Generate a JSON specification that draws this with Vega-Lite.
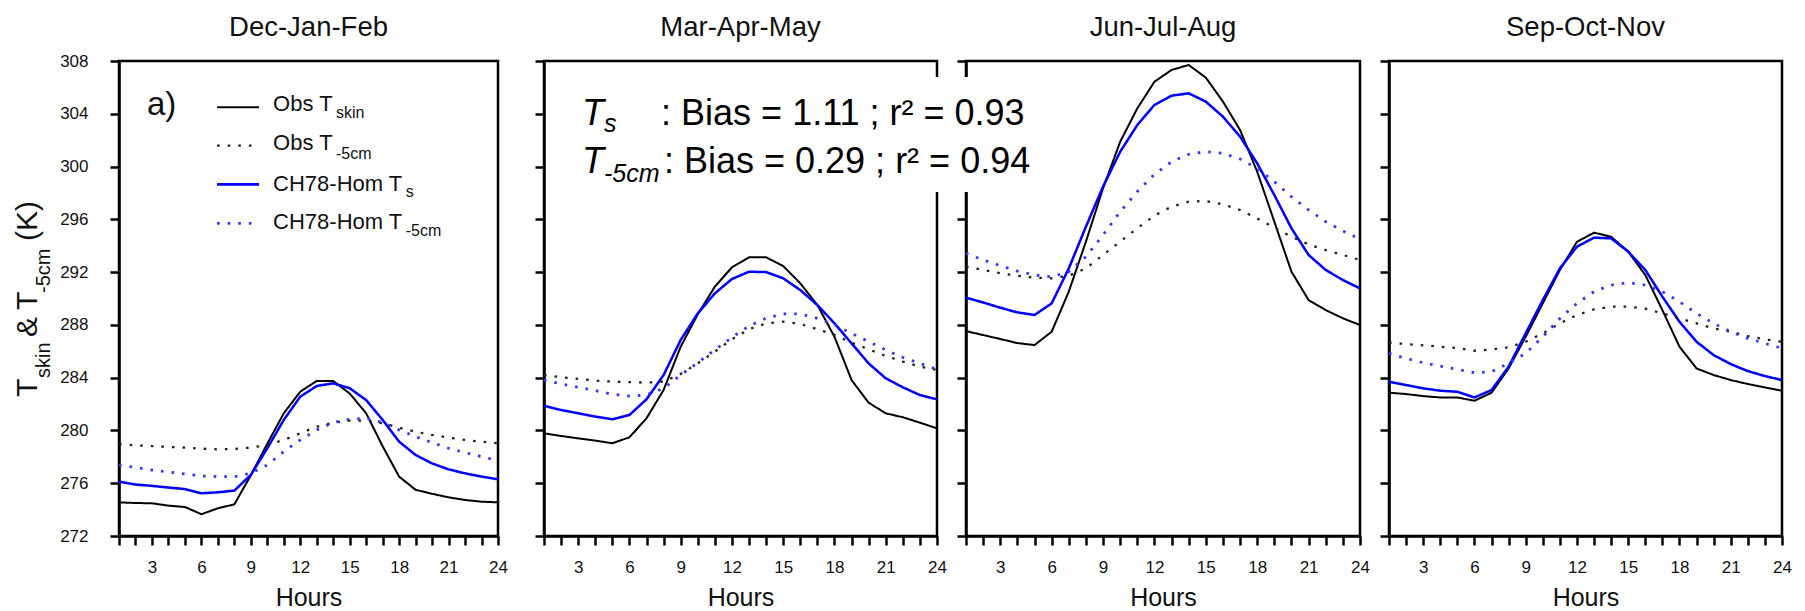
{
  "$schema": "https://vega.github.io/schema/vega-lite/v6.json",
  "autosize": {"type": "pad"},
  "padding": {"left": 11, "top": 12, "right": 0, "bottom": 0},
  "background": "white",
  "bounds": "flush",
  "spacing": 46,
  "config": {
    "font": "Liberation Sans",
    "view": {"stroke": "black", "strokeWidth": 2.5},
    "axis": {
      "domainColor": "black", "domainWidth": 2.5, "tickColor": "black", "tickWidth": 2.5, "tickSize": 9,
      "labelFont": "Liberation Sans", "labelFontSize": 17, "labelColor": "#111",
      "labelFlush": false, "labelOverlap": false, "grid": false, "zindex": 0,
      "titleFont": "Liberation Sans", "titleFontSize": 25, "titleFontWeight": "normal", "titleColor": "#111", "titlePadding": 10
    },
    "axisX": {"labelPadding": 14},
    "axisY": {"labelPadding": 22},
    "title": {"font": "Liberation Sans", "fontSize": 27.5, "fontWeight": "normal", "color": "#111", "anchor": "middle", "frame": "group", "baseline": "alphabetic", "offset": 18.5},
    "text": {"font": "Liberation Sans", "color": "black", "align": "left", "baseline": "alphabetic"}
  },
  "datasets": {
    "temps": [
      {"season":"DJF","series":"obs_skin","hour":1,"temp":274.55},{"season":"DJF","series":"obs_skin","hour":2,"temp":274.5},{"season":"DJF","series":"obs_skin","hour":3,"temp":274.48},{"season":"DJF","series":"obs_skin","hour":4,"temp":274.3},{"season":"DJF","series":"obs_skin","hour":5,"temp":274.2},{"season":"DJF","series":"obs_skin","hour":6,"temp":273.65},{"season":"DJF","series":"obs_skin","hour":7,"temp":274.1},{"season":"DJF","series":"obs_skin","hour":8,"temp":274.4},{"season":"DJF","series":"obs_skin","hour":9,"temp":276.6},{"season":"DJF","series":"obs_skin","hour":10,"temp":279.0},{"season":"DJF","series":"obs_skin","hour":11,"temp":281.3},{"season":"DJF","series":"obs_skin","hour":12,"temp":282.94},{"season":"DJF","series":"obs_skin","hour":13,"temp":283.75},{"season":"DJF","series":"obs_skin","hour":14,"temp":283.75},{"season":"DJF","series":"obs_skin","hour":15,"temp":282.8},{"season":"DJF","series":"obs_skin","hour":16,"temp":281.3},{"season":"DJF","series":"obs_skin","hour":17,"temp":278.8},{"season":"DJF","series":"obs_skin","hour":18,"temp":276.5},{"season":"DJF","series":"obs_skin","hour":19,"temp":275.5},{"season":"DJF","series":"obs_skin","hour":20,"temp":275.2},{"season":"DJF","series":"obs_skin","hour":21,"temp":274.93},{"season":"DJF","series":"obs_skin","hour":22,"temp":274.73},{"season":"DJF","series":"obs_skin","hour":23,"temp":274.6},{"season":"DJF","series":"obs_skin","hour":24,"temp":274.55},
      {"season":"DJF","series":"ch78_s","hour":1,"temp":276.12},{"season":"DJF","series":"ch78_s","hour":2,"temp":275.9},{"season":"DJF","series":"ch78_s","hour":3,"temp":275.8},{"season":"DJF","series":"ch78_s","hour":4,"temp":275.67},{"season":"DJF","series":"ch78_s","hour":5,"temp":275.56},{"season":"DJF","series":"ch78_s","hour":6,"temp":275.24},{"season":"DJF","series":"ch78_s","hour":7,"temp":275.31},{"season":"DJF","series":"ch78_s","hour":8,"temp":275.44},{"season":"DJF","series":"ch78_s","hour":9,"temp":276.63},{"season":"DJF","series":"ch78_s","hour":10,"temp":278.65},{"season":"DJF","series":"ch78_s","hour":11,"temp":280.8},{"season":"DJF","series":"ch78_s","hour":12,"temp":282.56},{"season":"DJF","series":"ch78_s","hour":13,"temp":283.37},{"season":"DJF","series":"ch78_s","hour":14,"temp":283.57},{"season":"DJF","series":"ch78_s","hour":15,"temp":283.2},{"season":"DJF","series":"ch78_s","hour":16,"temp":282.3},{"season":"DJF","series":"ch78_s","hour":17,"temp":280.8},{"season":"DJF","series":"ch78_s","hour":18,"temp":279.15},{"season":"DJF","series":"ch78_s","hour":19,"temp":278.14},{"season":"DJF","series":"ch78_s","hour":20,"temp":277.5},{"season":"DJF","series":"ch78_s","hour":21,"temp":277.05},{"season":"DJF","series":"ch78_s","hour":22,"temp":276.75},{"season":"DJF","series":"ch78_s","hour":23,"temp":276.5},{"season":"DJF","series":"ch78_s","hour":24,"temp":276.3},
      {"season":"DJF","series":"obs_5cm","hour":1,"temp":278.95},{"season":"DJF","series":"obs_5cm","hour":2,"temp":278.87},{"season":"DJF","series":"obs_5cm","hour":3,"temp":278.82},{"season":"DJF","series":"obs_5cm","hour":4,"temp":278.75},{"season":"DJF","series":"obs_5cm","hour":5,"temp":278.7},{"season":"DJF","series":"obs_5cm","hour":6,"temp":278.62},{"season":"DJF","series":"obs_5cm","hour":7,"temp":278.57},{"season":"DJF","series":"obs_5cm","hour":8,"temp":278.6},{"season":"DJF","series":"obs_5cm","hour":9,"temp":278.7},{"season":"DJF","series":"obs_5cm","hour":10,"temp":278.9},{"season":"DJF","series":"obs_5cm","hour":11,"temp":279.28},{"season":"DJF","series":"obs_5cm","hour":12,"temp":279.78},{"season":"DJF","series":"obs_5cm","hour":13,"temp":280.29},{"season":"DJF","series":"obs_5cm","hour":14,"temp":280.59},{"season":"DJF","series":"obs_5cm","hour":15,"temp":280.74},{"season":"DJF","series":"obs_5cm","hour":16,"temp":280.74},{"season":"DJF","series":"obs_5cm","hour":17,"temp":280.54},{"season":"DJF","series":"obs_5cm","hour":18,"temp":280.21},{"season":"DJF","series":"obs_5cm","hour":19,"temp":279.9},{"season":"DJF","series":"obs_5cm","hour":20,"temp":279.66},{"season":"DJF","series":"obs_5cm","hour":21,"temp":279.46},{"season":"DJF","series":"obs_5cm","hour":22,"temp":279.28},{"season":"DJF","series":"obs_5cm","hour":23,"temp":279.15},{"season":"DJF","series":"obs_5cm","hour":24,"temp":279.03},
      {"season":"DJF","series":"ch78_5cm","hour":1,"temp":277.38},{"season":"DJF","series":"ch78_5cm","hour":2,"temp":277.2},{"season":"DJF","series":"ch78_5cm","hour":3,"temp":277.0},{"season":"DJF","series":"ch78_5cm","hour":4,"temp":276.85},{"season":"DJF","series":"ch78_5cm","hour":5,"temp":276.7},{"season":"DJF","series":"ch78_5cm","hour":6,"temp":276.55},{"season":"DJF","series":"ch78_5cm","hour":7,"temp":276.5},{"season":"DJF","series":"ch78_5cm","hour":8,"temp":276.5},{"season":"DJF","series":"ch78_5cm","hour":9,"temp":276.75},{"season":"DJF","series":"ch78_5cm","hour":10,"temp":277.38},{"season":"DJF","series":"ch78_5cm","hour":11,"temp":278.4},{"season":"DJF","series":"ch78_5cm","hour":12,"temp":279.28},{"season":"DJF","series":"ch78_5cm","hour":13,"temp":280.04},{"season":"DJF","series":"ch78_5cm","hour":14,"temp":280.6},{"season":"DJF","series":"ch78_5cm","hour":15,"temp":280.85},{"season":"DJF","series":"ch78_5cm","hour":16,"temp":280.92},{"season":"DJF","series":"ch78_5cm","hour":17,"temp":280.6},{"season":"DJF","series":"ch78_5cm","hour":18,"temp":280.04},{"season":"DJF","series":"ch78_5cm","hour":19,"temp":279.53},{"season":"DJF","series":"ch78_5cm","hour":20,"temp":279.08},{"season":"DJF","series":"ch78_5cm","hour":21,"temp":278.65},{"season":"DJF","series":"ch78_5cm","hour":22,"temp":278.32},{"season":"DJF","series":"ch78_5cm","hour":23,"temp":278.02},{"season":"DJF","series":"ch78_5cm","hour":24,"temp":277.71},

      {"season":"MAM","series":"obs_skin","hour":1,"temp":279.78},{"season":"MAM","series":"obs_skin","hour":2,"temp":279.58},{"season":"MAM","series":"obs_skin","hour":3,"temp":279.4},{"season":"MAM","series":"obs_skin","hour":4,"temp":279.23},{"season":"MAM","series":"obs_skin","hour":5,"temp":279.03},{"season":"MAM","series":"obs_skin","hour":6,"temp":279.48},{"season":"MAM","series":"obs_skin","hour":7,"temp":280.92},{"season":"MAM","series":"obs_skin","hour":8,"temp":283.07},{"season":"MAM","series":"obs_skin","hour":9,"temp":286.35},{"season":"MAM","series":"obs_skin","hour":10,"temp":288.8},{"season":"MAM","series":"obs_skin","hour":11,"temp":290.9},{"season":"MAM","series":"obs_skin","hour":12,"temp":292.36},{"season":"MAM","series":"obs_skin","hour":13,"temp":293.12},{"season":"MAM","series":"obs_skin","hour":14,"temp":293.12},{"season":"MAM","series":"obs_skin","hour":15,"temp":292.46},{"season":"MAM","series":"obs_skin","hour":16,"temp":291.15},{"season":"MAM","series":"obs_skin","hour":17,"temp":289.5},{"season":"MAM","series":"obs_skin","hour":18,"temp":287.1},{"season":"MAM","series":"obs_skin","hour":19,"temp":283.82},{"season":"MAM","series":"obs_skin","hour":20,"temp":282.1},{"season":"MAM","series":"obs_skin","hour":21,"temp":281.3},{"season":"MAM","series":"obs_skin","hour":22,"temp":281.0},{"season":"MAM","series":"obs_skin","hour":23,"temp":280.59},{"season":"MAM","series":"obs_skin","hour":24,"temp":280.16},
      {"season":"MAM","series":"ch78_s","hour":1,"temp":281.86},{"season":"MAM","series":"ch78_s","hour":2,"temp":281.55},{"season":"MAM","series":"ch78_s","hour":3,"temp":281.3},{"season":"MAM","series":"ch78_s","hour":4,"temp":281.05},{"season":"MAM","series":"ch78_s","hour":5,"temp":280.85},{"season":"MAM","series":"ch78_s","hour":6,"temp":281.17},{"season":"MAM","series":"ch78_s","hour":7,"temp":282.36},{"season":"MAM","series":"ch78_s","hour":8,"temp":284.2},{"season":"MAM","series":"ch78_s","hour":9,"temp":286.86},{"season":"MAM","series":"ch78_s","hour":10,"temp":288.87},{"season":"MAM","series":"ch78_s","hour":11,"temp":290.39},{"season":"MAM","series":"ch78_s","hour":12,"temp":291.48},{"season":"MAM","series":"ch78_s","hour":13,"temp":292.03},{"season":"MAM","series":"ch78_s","hour":14,"temp":292.0},{"season":"MAM","series":"ch78_s","hour":15,"temp":291.53},{"season":"MAM","series":"ch78_s","hour":16,"temp":290.64},{"season":"MAM","series":"ch78_s","hour":17,"temp":289.5},{"season":"MAM","series":"ch78_s","hour":18,"temp":288.12},{"season":"MAM","series":"ch78_s","hour":19,"temp":286.6},{"season":"MAM","series":"ch78_s","hour":20,"temp":285.08},{"season":"MAM","series":"ch78_s","hour":21,"temp":283.95},{"season":"MAM","series":"ch78_s","hour":22,"temp":283.27},{"season":"MAM","series":"ch78_s","hour":23,"temp":282.68},{"season":"MAM","series":"ch78_s","hour":24,"temp":282.36},
      {"season":"MAM","series":"obs_5cm","hour":1,"temp":284.2},{"season":"MAM","series":"obs_5cm","hour":2,"temp":284.03},{"season":"MAM","series":"obs_5cm","hour":3,"temp":283.9},{"season":"MAM","series":"obs_5cm","hour":4,"temp":283.78},{"season":"MAM","series":"obs_5cm","hour":5,"temp":283.7},{"season":"MAM","series":"obs_5cm","hour":6,"temp":283.67},{"season":"MAM","series":"obs_5cm","hour":7,"temp":283.62},{"season":"MAM","series":"obs_5cm","hour":8,"temp":283.7},{"season":"MAM","series":"obs_5cm","hour":9,"temp":284.28},{"season":"MAM","series":"obs_5cm","hour":10,"temp":285.09},{"season":"MAM","series":"obs_5cm","hour":11,"temp":285.97},{"season":"MAM","series":"obs_5cm","hour":12,"temp":286.91},{"season":"MAM","series":"obs_5cm","hour":13,"temp":287.67},{"season":"MAM","series":"obs_5cm","hour":14,"temp":288.12},{"season":"MAM","series":"obs_5cm","hour":15,"temp":288.25},{"season":"MAM","series":"obs_5cm","hour":16,"temp":288.07},{"season":"MAM","series":"obs_5cm","hour":17,"temp":287.67},{"season":"MAM","series":"obs_5cm","hour":18,"temp":287.24},{"season":"MAM","series":"obs_5cm","hour":19,"temp":286.66},{"season":"MAM","series":"obs_5cm","hour":20,"temp":286.15},{"season":"MAM","series":"obs_5cm","hour":21,"temp":285.65},{"season":"MAM","series":"obs_5cm","hour":22,"temp":285.22},{"season":"MAM","series":"obs_5cm","hour":23,"temp":284.84},{"season":"MAM","series":"obs_5cm","hour":24,"temp":284.58},
      {"season":"MAM","series":"ch78_5cm","hour":1,"temp":283.83},{"season":"MAM","series":"ch78_5cm","hour":2,"temp":283.52},{"season":"MAM","series":"ch78_5cm","hour":3,"temp":283.27},{"season":"MAM","series":"ch78_5cm","hour":4,"temp":283.02},{"season":"MAM","series":"ch78_5cm","hour":5,"temp":282.74},{"season":"MAM","series":"ch78_5cm","hour":6,"temp":282.61},{"season":"MAM","series":"ch78_5cm","hour":7,"temp":282.69},{"season":"MAM","series":"ch78_5cm","hour":8,"temp":283.2},{"season":"MAM","series":"ch78_5cm","hour":9,"temp":284.2},{"season":"MAM","series":"ch78_5cm","hour":10,"temp":285.14},{"season":"MAM","series":"ch78_5cm","hour":11,"temp":286.1},{"season":"MAM","series":"ch78_5cm","hour":12,"temp":287.06},{"season":"MAM","series":"ch78_5cm","hour":13,"temp":287.92},{"season":"MAM","series":"ch78_5cm","hour":14,"temp":288.5},{"season":"MAM","series":"ch78_5cm","hour":15,"temp":288.83},{"season":"MAM","series":"ch78_5cm","hour":16,"temp":288.83},{"season":"MAM","series":"ch78_5cm","hour":17,"temp":288.5},{"season":"MAM","series":"ch78_5cm","hour":18,"temp":288.0},{"season":"MAM","series":"ch78_5cm","hour":19,"temp":287.36},{"season":"MAM","series":"ch78_5cm","hour":20,"temp":286.73},{"season":"MAM","series":"ch78_5cm","hour":21,"temp":286.1},{"season":"MAM","series":"ch78_5cm","hour":22,"temp":285.54},{"season":"MAM","series":"ch78_5cm","hour":23,"temp":285.09},{"season":"MAM","series":"ch78_5cm","hour":24,"temp":284.63},

      {"season":"JJA","series":"obs_skin","hour":1,"temp":287.53},{"season":"JJA","series":"obs_skin","hour":2,"temp":287.23},{"season":"JJA","series":"obs_skin","hour":3,"temp":286.93},{"season":"JJA","series":"obs_skin","hour":4,"temp":286.62},{"season":"JJA","series":"obs_skin","hour":5,"temp":286.47},{"season":"JJA","series":"obs_skin","hour":6,"temp":287.48},{"season":"JJA","series":"obs_skin","hour":7,"temp":290.52},{"season":"JJA","series":"obs_skin","hour":8,"temp":294.31},{"season":"JJA","series":"obs_skin","hour":9,"temp":298.35},{"season":"JJA","series":"obs_skin","hour":10,"temp":301.88},{"season":"JJA","series":"obs_skin","hour":11,"temp":304.41},{"season":"JJA","series":"obs_skin","hour":12,"temp":306.43},{"season":"JJA","series":"obs_skin","hour":13,"temp":307.32},{"season":"JJA","series":"obs_skin","hour":14,"temp":307.7},{"season":"JJA","series":"obs_skin","hour":15,"temp":306.74},{"season":"JJA","series":"obs_skin","hour":16,"temp":304.92},{"season":"JJA","series":"obs_skin","hour":17,"temp":302.77},{"season":"JJA","series":"obs_skin","hour":18,"temp":299.61},{"season":"JJA","series":"obs_skin","hour":19,"temp":295.82},{"season":"JJA","series":"obs_skin","hour":20,"temp":292.03},{"season":"JJA","series":"obs_skin","hour":21,"temp":289.88},{"season":"JJA","series":"obs_skin","hour":22,"temp":289.12},{"season":"JJA","series":"obs_skin","hour":23,"temp":288.5},{"season":"JJA","series":"obs_skin","hour":24,"temp":287.99},
      {"season":"JJA","series":"ch78_s","hour":1,"temp":290.06},{"season":"JJA","series":"ch78_s","hour":2,"temp":289.7},{"season":"JJA","series":"ch78_s","hour":3,"temp":289.3},{"season":"JJA","series":"ch78_s","hour":4,"temp":288.95},{"season":"JJA","series":"ch78_s","hour":5,"temp":288.75},{"season":"JJA","series":"ch78_s","hour":6,"temp":289.63},{"season":"JJA","series":"ch78_s","hour":7,"temp":292.28},{"season":"JJA","series":"ch78_s","hour":8,"temp":295.44},{"season":"JJA","series":"ch78_s","hour":9,"temp":298.48},{"season":"JJA","series":"ch78_s","hour":10,"temp":301.12},{"season":"JJA","series":"ch78_s","hour":11,"temp":303.15},{"season":"JJA","series":"ch78_s","hour":12,"temp":304.67},{"season":"JJA","series":"ch78_s","hour":13,"temp":305.37},{"season":"JJA","series":"ch78_s","hour":14,"temp":305.55},{"season":"JJA","series":"ch78_s","hour":15,"temp":304.92},{"season":"JJA","series":"ch78_s","hour":16,"temp":303.78},{"season":"JJA","series":"ch78_s","hour":17,"temp":302.27},{"season":"JJA","series":"ch78_s","hour":18,"temp":300.24},{"season":"JJA","series":"ch78_s","hour":19,"temp":297.84},{"season":"JJA","series":"ch78_s","hour":20,"temp":295.32},{"season":"JJA","series":"ch78_s","hour":21,"temp":293.3},{"season":"JJA","series":"ch78_s","hour":22,"temp":292.16},{"season":"JJA","series":"ch78_s","hour":23,"temp":291.4},{"season":"JJA","series":"ch78_s","hour":24,"temp":290.77},
      {"season":"JJA","series":"obs_5cm","hour":1,"temp":292.41},{"season":"JJA","series":"obs_5cm","hour":2,"temp":292.16},{"season":"JJA","series":"obs_5cm","hour":3,"temp":291.91},{"season":"JJA","series":"obs_5cm","hour":4,"temp":291.73},{"season":"JJA","series":"obs_5cm","hour":5,"temp":291.58},{"season":"JJA","series":"obs_5cm","hour":6,"temp":291.53},{"season":"JJA","series":"obs_5cm","hour":7,"temp":291.73},{"season":"JJA","series":"obs_5cm","hour":8,"temp":292.28},{"season":"JJA","series":"obs_5cm","hour":9,"temp":293.3},{"season":"JJA","series":"obs_5cm","hour":10,"temp":294.31},{"season":"JJA","series":"obs_5cm","hour":11,"temp":295.32},{"season":"JJA","series":"obs_5cm","hour":12,"temp":296.28},{"season":"JJA","series":"obs_5cm","hour":13,"temp":296.96},{"season":"JJA","series":"obs_5cm","hour":14,"temp":297.34},{"season":"JJA","series":"obs_5cm","hour":15,"temp":297.39},{"season":"JJA","series":"obs_5cm","hour":16,"temp":297.14},{"season":"JJA","series":"obs_5cm","hour":17,"temp":296.71},{"season":"JJA","series":"obs_5cm","hour":18,"temp":296.07},{"season":"JJA","series":"obs_5cm","hour":19,"temp":295.37},{"season":"JJA","series":"obs_5cm","hour":20,"temp":294.68},{"season":"JJA","series":"obs_5cm","hour":21,"temp":294.1},{"season":"JJA","series":"obs_5cm","hour":22,"temp":293.67},{"season":"JJA","series":"obs_5cm","hour":23,"temp":293.3},{"season":"JJA","series":"obs_5cm","hour":24,"temp":292.92},
      {"season":"JJA","series":"ch78_5cm","hour":1,"temp":293.42},{"season":"JJA","series":"ch78_5cm","hour":2,"temp":292.92},{"season":"JJA","series":"ch78_5cm","hour":3,"temp":292.49},{"season":"JJA","series":"ch78_5cm","hour":4,"temp":292.08},{"season":"JJA","series":"ch78_5cm","hour":5,"temp":291.78},{"season":"JJA","series":"ch78_5cm","hour":6,"temp":291.65},{"season":"JJA","series":"ch78_5cm","hour":7,"temp":292.03},{"season":"JJA","series":"ch78_5cm","hour":8,"temp":293.17},{"season":"JJA","series":"ch78_5cm","hour":9,"temp":294.81},{"season":"JJA","series":"ch78_5cm","hour":10,"temp":296.58},{"season":"JJA","series":"ch78_5cm","hour":11,"temp":298.1},{"season":"JJA","series":"ch78_5cm","hour":12,"temp":299.41},{"season":"JJA","series":"ch78_5cm","hour":13,"temp":300.37},{"season":"JJA","series":"ch78_5cm","hour":14,"temp":300.93},{"season":"JJA","series":"ch78_5cm","hour":15,"temp":301.13},{"season":"JJA","series":"ch78_5cm","hour":16,"temp":301.0},{"season":"JJA","series":"ch78_5cm","hour":17,"temp":300.57},{"season":"JJA","series":"ch78_5cm","hour":18,"temp":299.86},{"season":"JJA","series":"ch78_5cm","hour":19,"temp":298.85},{"season":"JJA","series":"ch78_5cm","hour":20,"temp":297.72},{"season":"JJA","series":"ch78_5cm","hour":21,"temp":296.71},{"season":"JJA","series":"ch78_5cm","hour":22,"temp":295.82},{"season":"JJA","series":"ch78_5cm","hour":23,"temp":295.12},{"season":"JJA","series":"ch78_5cm","hour":24,"temp":294.5},

      {"season":"SON","series":"obs_skin","hour":1,"temp":282.86},{"season":"SON","series":"obs_skin","hour":2,"temp":282.76},{"season":"SON","series":"obs_skin","hour":3,"temp":282.6},{"season":"SON","series":"obs_skin","hour":4,"temp":282.5},{"season":"SON","series":"obs_skin","hour":5,"temp":282.5},{"season":"SON","series":"obs_skin","hour":6,"temp":282.25},{"season":"SON","series":"obs_skin","hour":7,"temp":282.86},{"season":"SON","series":"obs_skin","hour":8,"temp":284.7},{"season":"SON","series":"obs_skin","hour":9,"temp":287.1},{"season":"SON","series":"obs_skin","hour":10,"temp":289.63},{"season":"SON","series":"obs_skin","hour":11,"temp":292.16},{"season":"SON","series":"obs_skin","hour":12,"temp":294.3},{"season":"SON","series":"obs_skin","hour":13,"temp":294.99},{"season":"SON","series":"obs_skin","hour":14,"temp":294.68},{"season":"SON","series":"obs_skin","hour":15,"temp":293.55},{"season":"SON","series":"obs_skin","hour":16,"temp":291.78},{"season":"SON","series":"obs_skin","hour":17,"temp":289.12},{"season":"SON","series":"obs_skin","hour":18,"temp":286.35},{"season":"SON","series":"obs_skin","hour":19,"temp":284.7},{"season":"SON","series":"obs_skin","hour":20,"temp":284.2},{"season":"SON","series":"obs_skin","hour":21,"temp":283.82},{"season":"SON","series":"obs_skin","hour":22,"temp":283.52},{"season":"SON","series":"obs_skin","hour":23,"temp":283.26},{"season":"SON","series":"obs_skin","hour":24,"temp":283.01},
      {"season":"SON","series":"ch78_s","hour":1,"temp":283.69},{"season":"SON","series":"ch78_s","hour":2,"temp":283.44},{"season":"SON","series":"ch78_s","hour":3,"temp":283.19},{"season":"SON","series":"ch78_s","hour":4,"temp":283.01},{"season":"SON","series":"ch78_s","hour":5,"temp":282.93},{"season":"SON","series":"ch78_s","hour":6,"temp":282.5},{"season":"SON","series":"ch78_s","hour":7,"temp":283.06},{"season":"SON","series":"ch78_s","hour":8,"temp":284.83},{"season":"SON","series":"ch78_s","hour":9,"temp":287.36},{"season":"SON","series":"ch78_s","hour":10,"temp":289.88},{"season":"SON","series":"ch78_s","hour":11,"temp":292.28},{"season":"SON","series":"ch78_s","hour":12,"temp":293.93},{"season":"SON","series":"ch78_s","hour":13,"temp":294.61},{"season":"SON","series":"ch78_s","hour":14,"temp":294.56},{"season":"SON","series":"ch78_s","hour":15,"temp":293.55},{"season":"SON","series":"ch78_s","hour":16,"temp":292.16},{"season":"SON","series":"ch78_s","hour":17,"temp":290.14},{"season":"SON","series":"ch78_s","hour":18,"temp":288.24},{"season":"SON","series":"ch78_s","hour":19,"temp":286.72},{"season":"SON","series":"ch78_s","hour":20,"temp":285.71},{"season":"SON","series":"ch78_s","hour":21,"temp":285.03},{"season":"SON","series":"ch78_s","hour":22,"temp":284.5},{"season":"SON","series":"ch78_s","hour":23,"temp":284.12},{"season":"SON","series":"ch78_s","hour":24,"temp":283.82},
      {"season":"SON","series":"obs_5cm","hour":1,"temp":286.65},{"season":"SON","series":"obs_5cm","hour":2,"temp":286.55},{"season":"SON","series":"obs_5cm","hour":3,"temp":286.45},{"season":"SON","series":"obs_5cm","hour":4,"temp":286.35},{"season":"SON","series":"obs_5cm","hour":5,"temp":286.24},{"season":"SON","series":"obs_5cm","hour":6,"temp":286.04},{"season":"SON","series":"obs_5cm","hour":7,"temp":286.14},{"season":"SON","series":"obs_5cm","hour":8,"temp":286.3},{"season":"SON","series":"obs_5cm","hour":9,"temp":286.72},{"season":"SON","series":"obs_5cm","hour":10,"temp":287.36},{"season":"SON","series":"obs_5cm","hour":11,"temp":288.11},{"season":"SON","series":"obs_5cm","hour":12,"temp":288.75},{"season":"SON","series":"obs_5cm","hour":13,"temp":289.18},{"season":"SON","series":"obs_5cm","hour":14,"temp":289.38},{"season":"SON","series":"obs_5cm","hour":15,"temp":289.38},{"season":"SON","series":"obs_5cm","hour":16,"temp":289.23},{"season":"SON","series":"obs_5cm","hour":17,"temp":288.87},{"season":"SON","series":"obs_5cm","hour":18,"temp":288.49},{"season":"SON","series":"obs_5cm","hour":19,"temp":288.11},{"season":"SON","series":"obs_5cm","hour":20,"temp":287.73},{"season":"SON","series":"obs_5cm","hour":21,"temp":287.48},{"season":"SON","series":"obs_5cm","hour":22,"temp":287.15},{"season":"SON","series":"obs_5cm","hour":23,"temp":286.9},{"season":"SON","series":"obs_5cm","hour":24,"temp":286.72},
      {"season":"SON","series":"ch78_5cm","hour":1,"temp":285.84},{"season":"SON","series":"ch78_5cm","hour":2,"temp":285.46},{"season":"SON","series":"ch78_5cm","hour":3,"temp":285.13},{"season":"SON","series":"ch78_5cm","hour":4,"temp":284.88},{"season":"SON","series":"ch78_5cm","hour":5,"temp":284.63},{"season":"SON","series":"ch78_5cm","hour":6,"temp":284.37},{"season":"SON","series":"ch78_5cm","hour":7,"temp":284.45},{"season":"SON","series":"ch78_5cm","hour":8,"temp":285.08},{"season":"SON","series":"ch78_5cm","hour":9,"temp":285.84},{"season":"SON","series":"ch78_5cm","hour":10,"temp":287.1},{"season":"SON","series":"ch78_5cm","hour":11,"temp":288.49},{"season":"SON","series":"ch78_5cm","hour":12,"temp":289.63},{"season":"SON","series":"ch78_5cm","hour":13,"temp":290.52},{"season":"SON","series":"ch78_5cm","hour":14,"temp":291.02},{"season":"SON","series":"ch78_5cm","hour":15,"temp":291.2},{"season":"SON","series":"ch78_5cm","hour":16,"temp":291.02},{"season":"SON","series":"ch78_5cm","hour":17,"temp":290.52},{"season":"SON","series":"ch78_5cm","hour":18,"temp":289.76},{"season":"SON","series":"ch78_5cm","hour":19,"temp":288.87},{"season":"SON","series":"ch78_5cm","hour":20,"temp":288.11},{"season":"SON","series":"ch78_5cm","hour":21,"temp":287.48},{"season":"SON","series":"ch78_5cm","hour":22,"temp":286.98},{"season":"SON","series":"ch78_5cm","hour":23,"temp":286.6},{"season":"SON","series":"ch78_5cm","hour":24,"temp":286.22}
    ],
    "key": [
      {"series":"obs_skin","hour":6.95,"hour2":9.5,"temp":304.49},
      {"series":"obs_5cm","hour":6.95,"hour2":9.5,"temp":301.58},
      {"series":"ch78_s","hour":6.95,"hour2":9.5,"temp":298.65},
      {"series":"ch78_5cm","hour":6.95,"hour2":9.5,"temp":295.70}
    ],
    "labels": [
      {"part":"legend_main","text":"Obs T","hour":10.35,"temp":304.21},
      {"part":"legend_main","text":"Obs T","hour":10.35,"temp":301.25},
      {"part":"legend_main","text":"CH78-Hom T","hour":10.35,"temp":298.15},
      {"part":"legend_main","text":"CH78-Hom T","hour":10.35,"temp":295.27},
      {"part":"legend_sub","text":"skin","hour":14.17,"temp":303.68},
      {"part":"legend_sub","text":"-5cm","hour":14.17,"temp":300.57},
      {"part":"legend_sub","text":"s","hour":18.4,"temp":297.69},
      {"part":"legend_sub","text":"-5cm","hour":18.4,"temp":294.74},
      {"part":"tag","text":"a)","hour":2.70,"temp":303.91},
      {"part":"ytitle_main","text":"T","hour":-3.98,"temp":282.53},
      {"part":"ytitle_main","text":"&","hour":-3.98,"temp":287.08},
      {"part":"ytitle_main","text":"T","hour":-3.98,"temp":289.13},
      {"part":"ytitle_main","text":"(K)","hour":-3.98,"temp":294.36},
      {"part":"ytitle_sub","text":"skin","hour":-3.2,"temp":283.97},
      {"part":"ytitle_sub","text":"-5cm","hour":-3.2,"temp":290.42}
    ],
    "note": [
      {"part":"box","text":"","hour":-22.47,"hour2":5.55,"temp":306.79,"temp2":298.07},
      {"part":"sym_main","text":"T","hour":-21.42,"temp":303.15},
      {"part":"sym_main","text":"T","hour":-21.42,"temp":299.51},
      {"part":"sym_sub","text":"s","hour":-20.13,"temp":302.62},
      {"part":"sym_sub","text":"-5cm","hour":-20.13,"temp":298.83},
      {"part":"stat","text":": Bias = 1.11 ; r² = 0.93","hour":-16.80,"temp":303.15},
      {"part":"stat","text":": Bias = 0.29 ; r² = 0.94","hour":-16.63,"temp":299.51}
    ]
  },
  "hconcat": [
    {
      "width": 379, "height": 475,
      "title": {"text": "Dec-Jan-Feb", "offset": 10.5},
      "resolve": {"axis": {"x": "independent", "y": "independent"}},
      "layer": [
        {
          "data": {"name": "temps"},
          "transform": [{"filter": "datum.season === 'DJF'"}],
          "mark": {"type": "line", "strokeCap": "butt"},
          "encoding": {
            "x": {"field": "hour", "type": "quantitative", "scale": {"domain": [1, 24], "nice": false, "zero": false},
                  "axis": {"values": [1,2,3,4,5,6,7,8,9,10,11,12,13,14,15,16,17,18,19,20,21,22,23,24], "labelExpr": "datum.value % 3 === 0 ? datum.label : ''", "labelOverlap": false, "title": "Hours"}},
            "y": {"field": "temp", "type": "quantitative", "scale": {"domain": [272, 308], "nice": false, "zero": false},
                  "axis": {"values": [272,276,280,284,288,292,296,300,304,308], "labelOverlap": false, "title": null}},
            "color": {"field": "series", "type": "nominal", "legend": null, "scale": {"domain": ["obs_skin","obs_5cm","ch78_s","ch78_5cm"], "range": ["#000000","#222222","#0000ff","#3535ff"]}},
            "strokeDash": {"field": "series", "type": "nominal", "legend": null, "scale": {"domain": ["obs_skin","obs_5cm","ch78_s","ch78_5cm"], "range": [[1,0],[2.6,8],[1,0],[2.6,8]]}},
            "strokeWidth": {"field": "series", "type": "nominal", "legend": null, "scale": {"domain": ["obs_skin","obs_5cm","ch78_s","ch78_5cm"], "range": [2,2.8,2.3,2.8]}}
          }
        },
        {
          "data": {"name": "key"},
          "mark": {"type": "rule"},
          "encoding": {
            "x": {"field": "hour", "type": "quantitative", "axis": null},
            "x2": {"field": "hour2"},
            "y": {"field": "temp", "type": "quantitative", "axis": null},
            "color": {"field": "series", "type": "nominal", "legend": null},
            "strokeDash": {"field": "series", "type": "nominal", "legend": null},
            "strokeWidth": {"field": "series", "type": "nominal", "legend": null}
          }
        },
        {
          "data": {"name": "labels"},
          "transform": [{"filter": "datum.part === 'legend_main'"}],
          "mark": {"type": "text", "fontSize": 22, "color": "#111"},
          "encoding": {"x": {"field": "hour", "type": "quantitative", "axis": null}, "y": {"field": "temp", "type": "quantitative", "axis": null}, "text": {"field": "text"}}
        },
        {
          "data": {"name": "labels"},
          "transform": [{"filter": "datum.part === 'legend_sub'"}],
          "mark": {"type": "text", "fontSize": 16, "color": "#111"},
          "encoding": {"x": {"field": "hour", "type": "quantitative", "axis": null}, "y": {"field": "temp", "type": "quantitative", "axis": null}, "text": {"field": "text"}}
        },
        {
          "data": {"name": "labels"},
          "transform": [{"filter": "datum.part === 'tag'"}],
          "mark": {"type": "text", "fontSize": 33, "color": "#111"},
          "encoding": {"x": {"field": "hour", "type": "quantitative", "axis": null}, "y": {"field": "temp", "type": "quantitative", "axis": null}, "text": {"field": "text"}}
        },
        {
          "data": {"name": "labels"},
          "transform": [{"filter": "datum.part === 'ytitle_main'"}],
          "mark": {"type": "text", "fontSize": 30, "angle": 270, "color": "#111"},
          "encoding": {"x": {"field": "hour", "type": "quantitative", "axis": null}, "y": {"field": "temp", "type": "quantitative", "axis": null}, "text": {"field": "text"}}
        },
        {
          "data": {"name": "labels"},
          "transform": [{"filter": "datum.part === 'ytitle_sub'"}],
          "mark": {"type": "text", "fontSize": 20, "angle": 270, "color": "#111"},
          "encoding": {"x": {"field": "hour", "type": "quantitative", "axis": null}, "y": {"field": "temp", "type": "quantitative", "axis": null}, "text": {"field": "text"}}
        }
      ]
    },
    {
      "bounds": "flush",
      "spacing": 29,
      "hconcat": [
        {
          "width": 393, "height": 475,
          "title": {"text": "Mar-Apr-May"},
          "data": {"name": "temps"},
          "transform": [{"filter": "datum.season === 'MAM'"}],
          "mark": {"type": "line", "strokeCap": "butt"},
          "encoding": {
            "x": {"field": "hour", "type": "quantitative", "scale": {"domain": [1, 24], "nice": false, "zero": false},
                  "axis": {"values": [1,2,3,4,5,6,7,8,9,10,11,12,13,14,15,16,17,18,19,20,21,22,23,24], "labelExpr": "datum.value % 3 === 0 ? datum.label : ''", "labelOverlap": false, "title": "Hours"}},
            "y": {"field": "temp", "type": "quantitative", "scale": {"domain": [272, 308], "nice": false, "zero": false},
                  "axis": {"values": [272,276,280,284,288,292,296,300,304,308], "title": null, "labels": false}},
            "color": {"field": "series", "type": "nominal", "legend": null, "scale": {"domain": ["obs_skin","obs_5cm","ch78_s","ch78_5cm"], "range": ["#000000","#222222","#0000ff","#3535ff"]}},
            "strokeDash": {"field": "series", "type": "nominal", "legend": null, "scale": {"domain": ["obs_skin","obs_5cm","ch78_s","ch78_5cm"], "range": [[1,0],[2.6,8],[1,0],[2.6,8]]}},
            "strokeWidth": {"field": "series", "type": "nominal", "legend": null, "scale": {"domain": ["obs_skin","obs_5cm","ch78_s","ch78_5cm"], "range": [2,2.8,2.3,2.8]}}
          }
        },
        {
          "width": 394, "height": 475,
          "title": {"text": "Jun-Jul-Aug"},
          "resolve": {"axis": {"x": "independent", "y": "independent"}},
          "layer": [
            {
              "data": {"name": "temps"},
              "transform": [{"filter": "datum.season === 'JJA'"}],
              "mark": {"type": "line", "strokeCap": "butt"},
              "encoding": {
                "x": {"field": "hour", "type": "quantitative", "scale": {"domain": [1, 24], "nice": false, "zero": false},
                      "axis": {"values": [1,2,3,4,5,6,7,8,9,10,11,12,13,14,15,16,17,18,19,20,21,22,23,24], "labelExpr": "datum.value % 3 === 0 ? datum.label : ''", "labelOverlap": false, "title": "Hours", "zindex": 0}},
                "y": {"field": "temp", "type": "quantitative", "scale": {"domain": [272, 308], "nice": false, "zero": false},
                      "axis": {"values": [272,276,280,284,288,292,296,300,304,308], "title": null, "labels": false, "zindex": 0}},
                "color": {"field": "series", "type": "nominal", "legend": null, "scale": {"domain": ["obs_skin","obs_5cm","ch78_s","ch78_5cm"], "range": ["#000000","#222222","#0000ff","#3535ff"]}},
                "strokeDash": {"field": "series", "type": "nominal", "legend": null, "scale": {"domain": ["obs_skin","obs_5cm","ch78_s","ch78_5cm"], "range": [[1,0],[2.6,8],[1,0],[2.6,8]]}},
                "strokeWidth": {"field": "series", "type": "nominal", "legend": null, "scale": {"domain": ["obs_skin","obs_5cm","ch78_s","ch78_5cm"], "range": [2,2.8,2.3,2.8]}}
              }
            },
            {
              "data": {"name": "note"},
              "transform": [{"filter": "datum.part === 'box'"}],
              "mark": {"type": "rect", "fill": "white", "stroke": null},
              "encoding": {"x": {"field": "hour", "type": "quantitative", "axis": null}, "x2": {"field": "hour2"}, "y": {"field": "temp", "type": "quantitative", "axis": null}, "y2": {"field": "temp2"}}
            },
            {
              "data": {"name": "note"},
              "transform": [{"filter": "datum.part === 'sym_main'"}],
              "mark": {"type": "text", "fontSize": 36, "fontStyle": "italic", "color": "black"},
              "encoding": {"x": {"field": "hour", "type": "quantitative", "axis": null}, "y": {"field": "temp", "type": "quantitative", "axis": null}, "text": {"field": "text"}}
            },
            {
              "data": {"name": "note"},
              "transform": [{"filter": "datum.part === 'sym_sub'"}],
              "mark": {"type": "text", "fontSize": 25, "fontStyle": "italic", "color": "black"},
              "encoding": {"x": {"field": "hour", "type": "quantitative", "axis": null}, "y": {"field": "temp", "type": "quantitative", "axis": null}, "text": {"field": "text"}}
            },
            {
              "data": {"name": "note"},
              "transform": [{"filter": "datum.part === 'stat'"}],
              "mark": {"type": "text", "fontSize": 36, "color": "black"},
              "encoding": {"x": {"field": "hour", "type": "quantitative", "axis": null}, "y": {"field": "temp", "type": "quantitative", "axis": null}, "text": {"field": "text"}}
            }
          ]
        },
        {
          "width": 393, "height": 475,
          "title": {"text": "Sep-Oct-Nov"},
          "data": {"name": "temps"},
          "transform": [{"filter": "datum.season === 'SON'"}],
          "mark": {"type": "line", "strokeCap": "butt"},
          "encoding": {
            "x": {"field": "hour", "type": "quantitative", "scale": {"domain": [1, 24], "nice": false, "zero": false},
                  "axis": {"values": [1,2,3,4,5,6,7,8,9,10,11,12,13,14,15,16,17,18,19,20,21,22,23,24], "labelExpr": "datum.value % 3 === 0 ? datum.label : ''", "labelOverlap": false, "title": "Hours"}},
            "y": {"field": "temp", "type": "quantitative", "scale": {"domain": [272, 308], "nice": false, "zero": false},
                  "axis": {"values": [272,276,280,284,288,292,296,300,304,308], "title": null, "labels": false}},
            "color": {"field": "series", "type": "nominal", "legend": null, "scale": {"domain": ["obs_skin","obs_5cm","ch78_s","ch78_5cm"], "range": ["#000000","#222222","#0000ff","#3535ff"]}},
            "strokeDash": {"field": "series", "type": "nominal", "legend": null, "scale": {"domain": ["obs_skin","obs_5cm","ch78_s","ch78_5cm"], "range": [[1,0],[2.6,8],[1,0],[2.6,8]]}},
            "strokeWidth": {"field": "series", "type": "nominal", "legend": null, "scale": {"domain": ["obs_skin","obs_5cm","ch78_s","ch78_5cm"], "range": [2,2.8,2.3,2.8]}}
          }
        }
      ]
    }
  ]
}
